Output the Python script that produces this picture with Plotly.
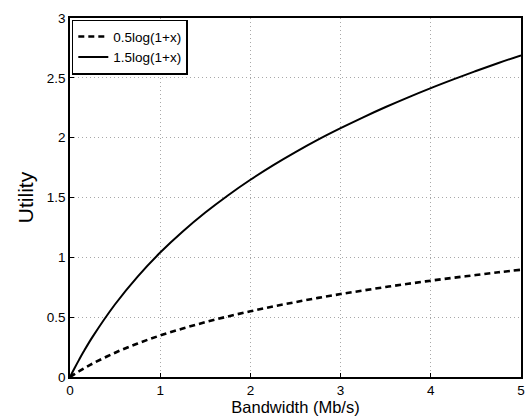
import plotly.graph_objects as go

x_vals = [0, 0.05, 0.1, 0.15, 0.25, 0.5, 0.75, 1, 1.25, 1.5, 1.75, 2, 2.25, 2.5,
          2.75, 3, 3.25, 3.5, 3.75, 4, 4.25, 4.5, 4.75, 5]
low_util = [0, .024, .048, .070, .112, .203, .280, .347, .405, .458, .506, .549,
            .589, .626, .661, .693, .723, .752, .779, .805, .829, .852, .875, .896]
high_util = [0, .073, .143, .210, .335, .608, .839, 1.040, 1.216, 1.374, 1.517,
             1.648, 1.768, 1.879, 1.983, 2.079, 2.170, 2.256, 2.337, 2.414, 2.487,
             2.557, 2.624, 2.688]
names = ["0.5log(1+x)", "1.5log(1+x)"]
x_ticks = [0, 1, 2, 3, 4, 5]
y_ticks = [0, 0.5, 1, 1.5, 2, 2.5, 3]
y_tick_text = ["0", "0.5", "1", "1.5", "2", "2.5", "3"]

fig = go.Figure()
fig.add_trace(go.Scatter(x=x_vals, y=low_util, name=names[0], mode="lines",
                         line=dict(color="black", width=2.6, dash="6px,4px", shape="spline")))
fig.add_trace(go.Scatter(x=x_vals, y=high_util, name=names[1], mode="lines",
                         line=dict(color="black", width=2, shape="spline")))

axis_common = dict(showline=True, linecolor="black", linewidth=1.5, mirror=True,
                   ticks="inside", ticklen=4, tickcolor="black",
                   showgrid=True, gridcolor="#a8a8a8", griddash="1px,3px", gridwidth=1,
                   zeroline=False, tickfont=dict(size=13.5, color="black"),
                   ticklabeloverflow="allow")

fig.update_layout(
    width=525, height=420,
    margin=dict(l=70, r=0, t=18, b=43),
    paper_bgcolor="white", plot_bgcolor="white",
    font=dict(family="Liberation Sans, Arial, sans-serif", color="black"),
    xaxis=dict(range=[0, 5], tickvals=x_ticks, ticktext=[str(t) for t in x_ticks],
               title=dict(text="Bandwidth (Mb/s)", font=dict(size=16.5), standoff=0),
               **axis_common),
    yaxis=dict(range=[0, 3], tickvals=y_ticks, ticktext=y_tick_text,
               title=dict(text="Utility", font=dict(size=21), standoff=7),
               **axis_common),
    legend=dict(x=0.004, y=0.995, xanchor="left", yanchor="top",
                bgcolor="white", bordercolor="black", borderwidth=1.5,
                font=dict(size=13.5), tracegroupgap=0, itemwidth=30),
    showlegend=True,
)

fig.write_html("out.html")
